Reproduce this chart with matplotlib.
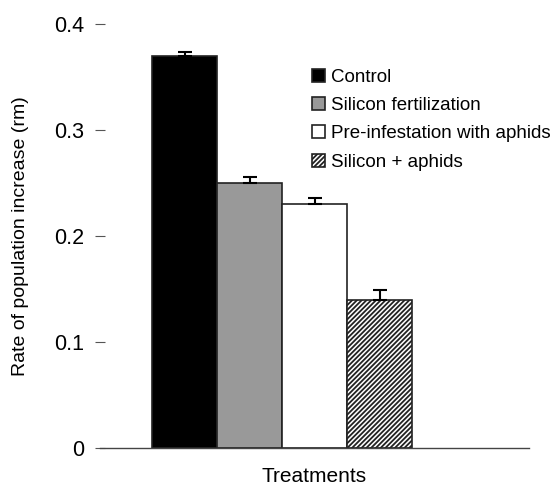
import numpy as np
import matplotlib
matplotlib.use('Agg')
import matplotlib.pyplot as plt

plt.rcParams['font.family'] = ['Liberation Sans', 'DejaVu Sans']
plt.rcParams['hatch.linewidth'] = 1.3

# data
treatments = ['Control', 'Silicon fertilization', 'Pre-infestation with aphids', 'Silicon + aphids']
rm = [0.37, 0.25, 0.23, 0.14]
se = [0.004, 0.006, 0.006, 0.009]
colors = ['black', '#999999', 'white', 'white']
hatches = [None, None, None, '///////']

fig = plt.figure(figsize=(5.54, 4.88), dpi=100)
ax = fig.add_axes([100 / 554, 1 - 448 / 488, 429 / 554, 424 / 488])

x = np.arange(len(rm))
bars = ax.bar(x, rm, width=1.0, color=colors, edgecolor='#222222', linewidth=1.2,
              yerr=[np.zeros(len(se)), se], capsize=5,
              error_kw=dict(ecolor='black', elinewidth=1.5, capthick=1.5))
for b, h in zip(bars, hatches):
    if h:
        b.set_hatch(h)

ax.set_xlim(-1.3, 5.3)
ax.set_ylim(0, 0.4)
ax.set_yticks([0, 0.1, 0.2, 0.3, 0.4])
ax.set_yticklabels(['0', '0.1', '0.2', '0.3', '0.4'])
ax.set_xticks([])

for s in ['top', 'right', 'left']:
    ax.spines[s].set_visible(False)
ax.spines['bottom'].set_color('#444444')
ax.spines['bottom'].set_linewidth(1.0)

ax.tick_params(axis='y', direction='inout', length=7, width=0.8, color='#555555',
               labelsize=15.5, pad=8)

ax.set_xlabel('Treatments', fontsize=15, labelpad=14)
ax.set_ylabel('Rate of population increase (rm)', fontsize=14)
ax.yaxis.set_label_coords(-0.165, 0.5)

ax.legend(bars, treatments, loc='upper left', bbox_to_anchor=(0.494, 0.895),
          frameon=False, fontsize=13.5, handlelength=0.7, handleheight=0.7,
          handletextpad=0.3, labelspacing=0.6, borderpad=0, borderaxespad=0)

fig.savefig('out.png', dpi=100)
